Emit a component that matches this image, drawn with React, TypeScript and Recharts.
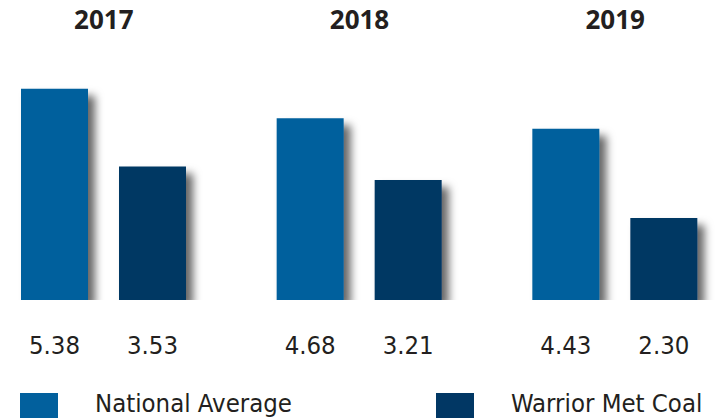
import { BarChart, Bar, XAxis, YAxis, Legend, LabelList } from 'recharts'

const years = ['2017', '2018', '2019']
const nationalAverage = [5.38, 4.68, 4.43]
const warriorMetCoal = [3.53, 3.21, 2.30]
const seriesNames = ['National Average', 'Warrior Met Coal']

const NA_COLOR = '#02609d'
const WMC_COLOR = '#013764'
const TEXT = '#231f20'
const VALUE_FONT = '"DejaVu Sans Condensed", "DejaVu Sans", sans-serif'

const data = years.map((year, i) => ({
  year,
  national: nationalAverage[i],
  warrior: warriorMetCoal[i],
}))

// year titles above each group
function YearTick(props: any) {
  const { x, payload } = props
  return (
    <text x={x} y={29} textAnchor="middle" fill={TEXT}
      style={{ fontFamily: '"Open Sans", sans-serif', fontWeight: 700, fontSize: 26 }}>
      {payload.value}
    </text>
  )
}

// value printed under the bar base
function ValueLabel(props: any) {
  const { x, y, width, height, value } = props
  return (
    <text x={x + width / 2} y={y + height + 54} textAnchor="middle" fill={TEXT}
      style={{ fontFamily: VALUE_FONT, fontSize: 25.5 }}>
      {Number(value).toFixed(2)}
    </text>
  )
}

const LEGEND_X = [20, 436]

function LegendContent(props: any) {
  const { payload = [] } = props
  return (
    <div style={{ position: 'relative', height: 25, width: 725 }}>
      {payload.map((p: any, i: number) => (
        <div key={p.value} style={{ position: 'absolute', left: LEGEND_X[i], top: 0, display: 'flex' }}>
          <div style={{ width: 38, height: 30, background: p.color }} />
          <span style={{
            marginLeft: 37, fontFamily: VALUE_FONT, fontSize: 25.5, color: TEXT,
            lineHeight: '25px', marginTop: -2, whiteSpace: 'nowrap',
          }}>
            {p.value}
          </span>
        </div>
      ))}
    </div>
  )
}

export default function App() {
  return (
    <div style={{ position: 'absolute', left: 0, top: 0, width: 725, height: 418, background: '#fff', overflow: 'hidden' }}>
      <BarChart
        width={725}
        height={418}
        data={data}
        barSize={67}
        barGap={31}
        margin={{ top: 0, right: -18, bottom: 93, left: -24 }}
      >
        <defs>
          <filter id="barShadow" x="-50%" y="-20%" width="200%" height="140%">
            <feDropShadow dx="7" dy="7" stdDeviation="4" floodColor="#000" floodOpacity="0.6" />
          </filter>
        </defs>
        <XAxis dataKey="year" orientation="top" height={69} axisLine={false} tickLine={false} tick={<YearTick />} interval={0} />
        <YAxis hide domain={[0.35, 5.85]} allowDataOverflow />
        <Legend
          verticalAlign="bottom"
          content={<LegendContent />}
          wrapperStyle={{ left: 0, top: 393, bottom: 'auto', width: 725 }}
        />
        <Bar dataKey="national" name={seriesNames[0]} fill={NA_COLOR} filter="url(#barShadow)" isAnimationActive={false}>
          <LabelList dataKey="national" content={<ValueLabel />} />
        </Bar>
        <Bar dataKey="warrior" name={seriesNames[1]} fill={WMC_COLOR} filter="url(#barShadow)" isAnimationActive={false}>
          <LabelList dataKey="warrior" content={<ValueLabel />} />
        </Bar>
      </BarChart>
    </div>
  )
}
